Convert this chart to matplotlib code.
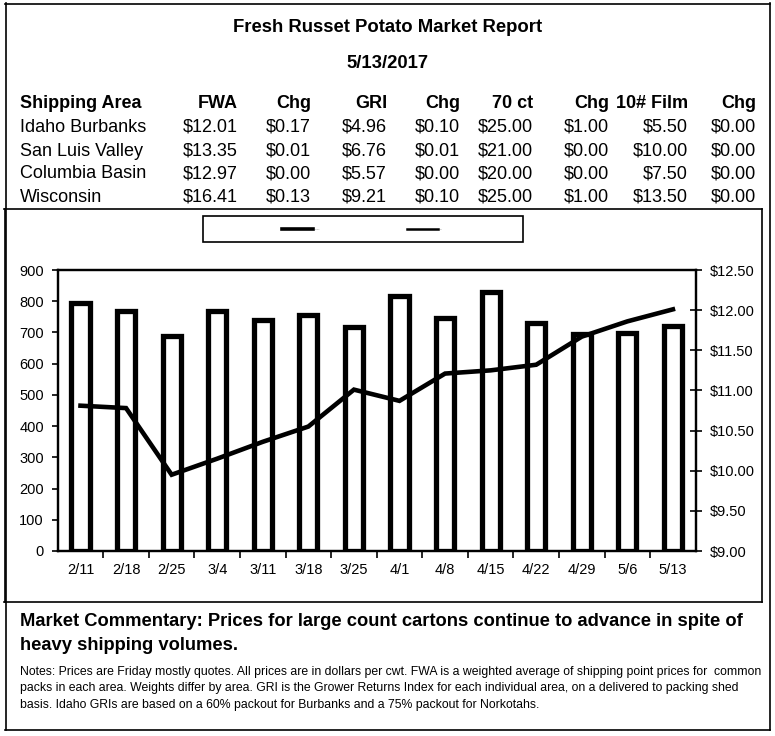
import matplotlib
matplotlib.use("Agg")
import matplotlib.pyplot as plt
from matplotlib.lines import Line2D
from matplotlib.patches import Rectangle
from matplotlib.ticker import FixedLocator, FuncFormatter

plt.rcParams['font.family'] = ['Liberation Sans', 'DejaVu Sans']

# ---------------- data ----------------
weeks = ["2/11", "2/18", "2/25", "3/4", "3/11", "3/18", "3/25",
         "4/1", "4/8", "4/15", "4/22", "4/29", "5/6", "5/13"]
volume = [795, 768, 688, 768, 740, 757, 716, 816, 745, 830, 729, 694, 697, 720]
fwa_price = [10.81, 10.78, 9.95, 10.15, 10.36, 10.55, 11.01,
             10.87, 11.21, 11.25, 11.32, 11.67, 11.86, 12.01]

table_header = ["Shipping Area", "FWA", "Chg", "GRI", "Chg", "70 ct", "Chg", "10# Film", "Chg"]
areas = ["Idaho Burbanks", "San Luis Valley", "Columbia Basin", "Wisconsin"]
fwa_col = ["$12.01", "$13.35", "$12.97", "$16.41"]
fwa_chg = ["$0.17", "$0.01", "$0.00", "$0.13"]
gri_col = ["$4.96", "$6.76", "$5.57", "$9.21"]
gri_chg = ["$0.10", "$0.01", "$0.00", "$0.10"]
ct70_col = ["$25.00", "$21.00", "$20.00", "$25.00"]
ct70_chg = ["$1.00", "$0.00", "$0.00", "$1.00"]
film_col = ["$5.50", "$10.00", "$7.50", "$13.50"]
film_chg = ["$0.00", "$0.00", "$0.00", "$0.00"]

title = "Fresh Russet Potato Market Report"
date = "5/13/2017"
commentary = ["Market Commentary: Prices for large count cartons continue to advance in spite of",
              "heavy shipping volumes."]
notes = ["Notes: Prices are Friday mostly quotes. All prices are in dollars per cwt. FWA is a weighted average of shipping point prices for  common",
         "packs in each area. Weights differ by area. GRI is the Grower Returns Index for each individual area, on a delivered to packing shed",
         "basis. Idaho GRIs are based on a 60% packout for Burbanks and a 75% packout for Norkotahs."]

W, H = 775, 736
fig = plt.figure(figsize=(W / 100, H / 100), dpi=100)


def fx(x):
    return x / W


def fy(y):
    return 1 - y / H


def hline(x0, x1, y, lw=1.2):
    fig.add_artist(Line2D([fx(x0), fx(x1)], [fy(y), fy(y)], color="black", lw=lw,
                          transform=fig.transFigure))


def vline(x, y0, y1, lw=1.2):
    fig.add_artist(Line2D([fx(x), fx(x)], [fy(y0), fy(y1)], color="black", lw=lw,
                          transform=fig.transFigure))


# outer frame
hline(5, 770, 3.5)
hline(5, 770, 729.5)
vline(5.5, 3, 730)
vline(769.5, 3, 730)
# chart box
hline(4, 762, 209)
hline(4, 762, 602)
vline(4.5, 209, 602)
vline(761.5, 209, 602)

# header texts
fig.text(fx(388), fy(28), title, ha="center", va="center", fontsize=13.3, fontweight="bold")
fig.text(fx(388), fy(63), date, ha="center", va="center", fontsize=13.3, fontweight="bold")

col_right = [None, 238, 311, 387, 460, 533, 609, 688, 756]
fig.text(fx(20), fy(103), table_header[0], ha="left", va="center", fontsize=13, fontweight="bold")
for i in range(1, 9):
    fig.text(fx(col_right[i]), fy(103), table_header[i], ha="right", va="center",
             fontsize=13, fontweight="bold")
columns = [fwa_col, fwa_chg, gri_col, gri_chg, ct70_col, ct70_chg, film_col, film_chg]
row_y = [127, 151, 174, 197]
for r, area in enumerate(areas):
    fig.text(fx(20), fy(row_y[r]), area, ha="left", va="center", fontsize=13)
    for c, col in enumerate(columns):
        fig.text(fx(col_right[c + 1]), fy(row_y[r]), col[r], ha="right", va="center", fontsize=13)

# legend box
fig.add_artist(Rectangle((fx(203), fy(242)), fx(523) - fx(203), fy(216) - fy(242),
                         transform=fig.transFigure, fill=False, edgecolor="black", lw=1.2))
fig.add_artist(Line2D([fx(282), fx(313)], [fy(229), fy(229)], color="black", lw=2.6,
                      transform=fig.transFigure))
fig.add_artist(Line2D([fx(407), fx(438)], [fy(229), fy(229)], color="black", lw=1.8,
                      transform=fig.transFigure))
fig.text(fx(315), fy(229), "----", fontsize=3, color="#555555", va="center", ha="left")
fig.text(fx(440), fy(229), "--", fontsize=3, color="#555555", va="center", ha="left")

# main axes
left, right, top, bottom = 57.7, 695.7, 270, 551
ax = fig.add_axes([fx(left), fy(bottom), fx(right) - fx(left), fy(top) - fy(bottom)])
x = list(range(len(weeks)))
ax.bar(x, volume, width=0.40, facecolor="white", edgecolor="black", linewidth=3.8, zorder=2)
ax.set_xlim(-0.5, len(weeks) - 0.5)
ax.set_ylim(0, 900)
ax.set_yticks(range(0, 901, 100))
ax.set_xticks(x)
ax.set_xticklabels(weeks)
ax.xaxis.set_minor_locator(FixedLocator([i + 0.5 for i in range(len(weeks) - 1)]))
ax.tick_params(axis="x", which="major", length=0, pad=9, labelsize=10.5)
ax.tick_params(axis="x", which="minor", length=5, width=1.2, direction="out")
ax.tick_params(axis="y", length=4, width=1.2, direction="out", labelsize=10.5, pad=6)
for s in ax.spines.values():
    s.set_linewidth(1.6)

ax2 = ax.twinx()
ax2.plot(x, fwa_price, color="black", lw=3.3, solid_joinstyle="miter", zorder=3)
ax2.set_ylim(9.0, 12.5)
ax2.set_yticks([9.0 + 0.5 * i for i in range(8)])
ax2.yaxis.set_major_formatter(FuncFormatter(lambda v, p: f"${v:.2f}"))
ax2.tick_params(axis="y", length=8, width=1.2, direction="inout", labelsize=10.5, pad=6)
for s in ax2.spines.values():
    s.set_linewidth(1.6)

# commentary
for i, line in enumerate(commentary):
    fig.text(fx(20), fy(622 + 24 * i), line, ha="left", va="center", fontsize=13.25,
             fontweight="bold")
for i, line in enumerate(notes):
    fig.text(fx(20), fy(672 + 16.3 * i), line, ha="left", va="center", fontsize=8.85)

fig.savefig("out.png", dpi=100)
